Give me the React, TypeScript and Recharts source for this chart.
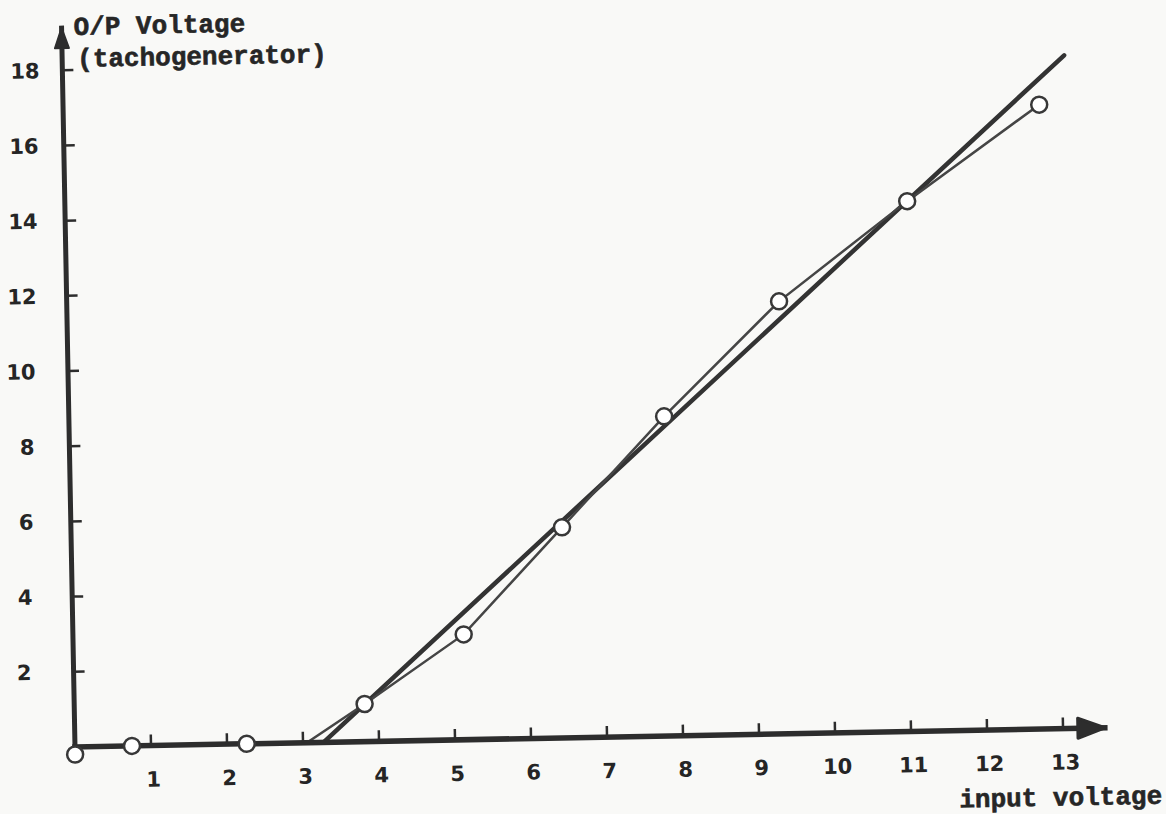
import React from 'react';
import { LineChart, Line, XAxis, YAxis, ReferenceDot } from 'recharts';

// measured points (input voltage -> O/P voltage of tachogenerator)
const inputVoltage = [0, 0.75, 2.26, 3.05, 3.82, 5.14, 6.46, 7.83, 9.37, 11.08, 12.84];
const outputVoltage = [-0.2, 0, 0, 0, 1.0, 2.8, 5.6, 8.5, 11.5, 14.1, 16.6];
const circled = [true, true, true, false, true, true, true, true, true, true, true];

// straight line drawn through the points
const fitInput = [3.27, 13.18];
const fitOutput = [0, 17.9];

const xTicks = [1, 2, 3, 4, 5, 6, 7, 8, 9, 10, 11, 12, 13];
const yTicks = [2, 4, 6, 8, 10, 12, 14, 16, 18];

const X_MAX = 13.55;
const Y_MAX = 19.12;

const measured = inputVoltage.map((x, i) => ({ x, y: outputVoltage[i] }));
const circles = measured.filter((_, i) => circled[i]);
const fit = fitInput.map((x, i) => ({ x, y: fitOutput[i] }));

const INK = '#2d2d2d';
const numFont = '"DejaVu Sans", sans-serif';
const typeFont = '"Liberation Mono", monospace';

function XTick(props: any) {
  const { x, y, payload } = props;
  return (
    <g>
      <line x1={x} y1={y} x2={x} y2={y - 11} stroke={INK} strokeWidth={2.5} />
      <text x={x + 2} y={y + 41} textAnchor="middle" fontFamily={numFont} fontWeight="bold" fontSize={21} fill="#252525">
        {payload.value}
      </text>
    </g>
  );
}

function YTick(props: any) {
  const { x, y, payload } = props;
  const off = -42 + (payload.value - 2) * 1.2;
  return (
    <g>
      <line x1={x} y1={y} x2={x + 11} y2={y} stroke={INK} strokeWidth={2.5} />
      <text x={x + off} y={y + 7.5} textAnchor="end" fontFamily={numFont} fontWeight="bold" fontSize={21} fill="#252525">
        {payload.value}
      </text>
    </g>
  );
}

function yTitle(props: any) {
  const vb = props.viewBox;
  const ax = vb.x + vb.width;
  const top = vb.y;
  return (
    <g>
      <polygon
        points={`${ax},${top} ${ax - 7},${top + 20} ${ax + 7},${top + 20}`}
        fill={INK} stroke={INK} strokeWidth={2} strokeLinejoin="round"
      />
      <text x={ax + 12} y={top + 7} fontFamily={typeFont} fontWeight="bold" fontSize={26} fill="#262626" stroke="#262626" strokeWidth={0.6}>
        O/P Voltage
      </text>
      <text x={ax + 15} y={top + 39} fontFamily={typeFont} fontWeight="bold" fontSize={26} fill="#262626" stroke="#262626" strokeWidth={0.6}>
        (tachogenerator)
      </text>
    </g>
  );
}

function xTitle(props: any) {
  const vb = props.viewBox;
  const end = vb.x + vb.width;
  const ay = vb.y;
  return (
    <g>
      <polygon
        points={`${end},${ay} ${end - 27},${ay - 10} ${end - 27},${ay + 10}`}
        fill={INK} stroke={INK} strokeWidth={3} strokeLinejoin="round"
      />
      <text x={end + 56} y={ay + 77} textAnchor="end" fontFamily={typeFont} fontWeight="bold" fontSize={26} fill="#262626" stroke="#262626" strokeWidth={0.6}>
        input voltage
      </text>
    </g>
  );
}

export default function App() {
  return (
    <div style={{ position: 'fixed', inset: 0, background: '#f9f9f7', overflow: 'hidden' }}>
      <div style={{ position: 'absolute', left: 0, top: 0, transform: 'rotate(-1.07deg)', transformOrigin: '75px 747px' }}>
        <LineChart width={1166} height={840} margin={{ top: 28, right: 61, bottom: 0, left: 0 }}>
          <XAxis
            type="number" dataKey="x" domain={[0, X_MAX]} ticks={xTicks} interval={0} allowDataOverflow
            height={93} tickSize={0} tickMargin={0} tickLine={false} tick={(p: any) => <XTick {...p} />}
            axisLine={{ stroke: INK, strokeWidth: 5.5, strokeLinecap: 'square' }} label={xTitle}
          />
          <YAxis
            type="number" domain={[0, Y_MAX]} ticks={yTicks} interval={0} allowDataOverflow
            width={75} tickSize={0} tickMargin={0} tickLine={false} tick={(p: any) => <YTick {...p} />}
            axisLine={{ stroke: INK, strokeWidth: 5, strokeLinecap: 'square' }} label={yTitle}
          />
          <Line data={fit} dataKey="y" type="linear" stroke="#333" strokeWidth={4.5} strokeLinecap="round" dot={false} activeDot={false} isAnimationActive={false} />
          <Line data={measured} dataKey="y" type="linear" stroke="#454545" strokeWidth={2.5} dot={false} activeDot={false} isAnimationActive={false} />
          {circles.map((p, i) => (
            <ReferenceDot
              key={i} x={p.x} y={p.y} r={8} ifOverflow="visible"
              fill="#fff" stroke="#383838" strokeWidth={2.5}
            />
          ))}
        </LineChart>
      </div>
    </div>
  );
}
